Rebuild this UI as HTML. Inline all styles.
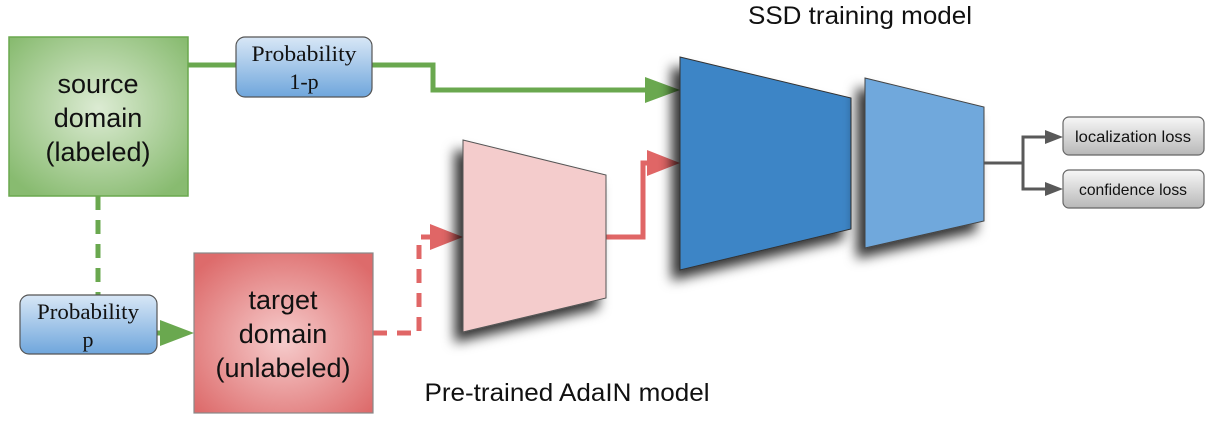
<!DOCTYPE html>
<html><head><meta charset="utf-8"><style>
html,body{margin:0;padding:0;background:#fff;}
svg{display:block;}
</style></head><body>
<svg width="1216" height="422" viewBox="0 0 1216 422" xmlns="http://www.w3.org/2000/svg" font-family="Liberation Sans, sans-serif">
<defs>
<filter id="sh" x="-30%" y="-30%" width="160%" height="160%">
<feDropShadow dx="-8" dy="10" stdDeviation="6" flood-color="#000" flood-opacity="0.8"/>
</filter>
<radialGradient id="gg" cx="50%" cy="45%" r="65%">
<stop offset="0" stop-color="#dcebd3"/><stop offset="1" stop-color="#88bb70"/>
</radialGradient>
<radialGradient id="rg" cx="50%" cy="55%" r="65%">
<stop offset="0" stop-color="#f6cccc"/><stop offset="1" stop-color="#dd6b6b"/>
</radialGradient>
<linearGradient id="bg" x1="0" y1="0" x2="0" y2="1">
<stop offset="0" stop-color="#d8e7f6"/><stop offset="1" stop-color="#6fa6dc"/>
</linearGradient>
<linearGradient id="gr" x1="0" y1="0" x2="0" y2="1">
<stop offset="0" stop-color="#f7f7f7"/><stop offset="1" stop-color="#b8b8b8"/>
</linearGradient>
</defs>

<polyline points="188,65 236,65" stroke="#6aa84f" stroke-width="5" fill="none"/>
<polyline points="371,65 433,65 433,90 648,90" stroke="#6aa84f" stroke-width="5" fill="none"/>
<polygon points="645,77 680,90 645,103" fill="#6aa84f"/>
<line x1="98" y1="196" x2="98" y2="295" stroke="#6aa84f" stroke-width="5" stroke-dasharray="14,10"/>
<line x1="157" y1="333" x2="163" y2="333" stroke="#6aa84f" stroke-width="5"/>
<polygon points="160,320 194,333 160,346" fill="#6aa84f"/>

<polyline points="373,333 419,333 419,237 432,237" stroke="#e06666" stroke-width="5" fill="none" stroke-dasharray="14,10"/>
<polygon points="430,224 463,237 430,250" fill="#e06666"/>
<polyline points="606,237 643,237 643,163 650,163" stroke="#e06666" stroke-width="5" fill="none"/>
<polygon points="647,150 680,163 647,176" fill="#e06666"/>

<rect x="9" y="37" width="179" height="159" fill="url(#gg)" stroke="#6aa84f" stroke-width="1.5"/>
<text font-size="27" text-anchor="middle" fill="#111"><tspan x="98" y="93">source</tspan><tspan x="98" y="127">domain</tspan><tspan x="98" y="161">(labeled)</tspan></text>
<rect x="236" y="37" width="136" height="60" rx="9" fill="url(#bg)" stroke="#555" stroke-width="1.2"/>
<text font-family="Liberation Serif, serif" font-size="22" text-anchor="middle" fill="#111"><tspan x="304" y="61" textLength="105" lengthAdjust="spacingAndGlyphs">Probability</tspan><tspan x="304" y="89">1-p</tspan></text>

<rect x="194" y="253" width="179" height="160" fill="url(#rg)" stroke="#888" stroke-width="1.2"/>
<text font-size="27" text-anchor="middle" fill="#111"><tspan x="283" y="309">target</tspan><tspan x="283" y="343">domain</tspan><tspan x="283" y="377">(unlabeled)</tspan></text>
<rect x="20" y="295" width="137" height="59" rx="9" fill="url(#bg)" stroke="#555" stroke-width="1.2"/>
<text font-family="Liberation Serif, serif" font-size="22" text-anchor="middle" fill="#111"><tspan x="88" y="319" textLength="102" lengthAdjust="spacingAndGlyphs">Probability</tspan><tspan x="88" y="347">p</tspan></text>

<polygon points="463,140 606,175 606,298 463,332" fill="#f4cccc" stroke="#555" stroke-width="1" filter="url(#sh)"/>
<polygon points="680,57 851,98 851,229 680,270" fill="#3d85c6" stroke="#333" stroke-width="1" filter="url(#sh)"/>
<polygon points="865,78 984,107 984,221 865,248" fill="#6fa8dc" stroke="#444" stroke-width="1" filter="url(#sh)"/>

<polyline points="984,163 1023,163" stroke="#595959" stroke-width="3" fill="none"/>
<polyline points="1047,137 1023,137 1023,189 1047,189" stroke="#595959" stroke-width="3" fill="none"/>
<polygon points="1045,130 1063,137 1045,144" fill="#595959"/>
<polygon points="1045,182 1063,189 1045,196" fill="#595959"/>
<rect x="1063" y="117" width="141" height="38" rx="6" fill="url(#gr)" stroke="#666" stroke-width="1.2"/>
<rect x="1063" y="170" width="141" height="38" rx="6" fill="url(#gr)" stroke="#666" stroke-width="1.2"/>
<text x="1133" y="142" font-size="16" text-anchor="middle" fill="#111" textLength="116" lengthAdjust="spacingAndGlyphs">localization loss</text>
<text x="1133" y="195" font-size="16" text-anchor="middle" fill="#111" textLength="108" lengthAdjust="spacingAndGlyphs">confidence loss</text>

<text x="860" y="24" font-size="25" text-anchor="middle" fill="#111" textLength="224" lengthAdjust="spacingAndGlyphs">SSD training model</text>
<text x="567" y="401" font-size="25" text-anchor="middle" fill="#111" textLength="285" lengthAdjust="spacingAndGlyphs">Pre-trained AdaIN model</text>
</svg>
</body></html>
